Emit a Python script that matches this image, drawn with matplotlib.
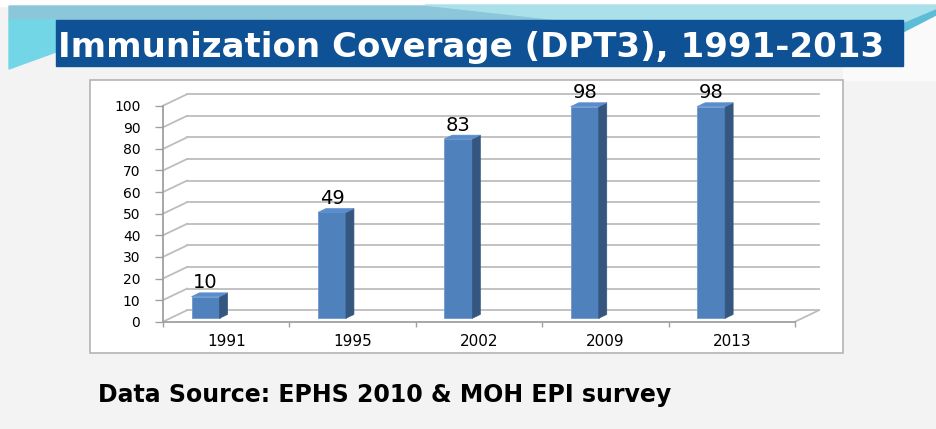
import matplotlib.pyplot as plt
from matplotlib.patches import Polygon, Rectangle

# chart data
years = ["1991", "1995", "2002", "2009", "2013"]
coverage = [10, 49, 83, 98, 98]
y_ticks = list(range(0, 101, 10))

title = "Immunization Coverage (DPT3), 1991-2013"
source = "Data Source: EPHS 2010 & MOH EPI survey"

W, H = 936, 429
fig = plt.figure(figsize=(W / 100, H / 100), dpi=100)
fig.patch.set_facecolor("#f3f3f3")

# slide background pieces, drawn in pixel coordinates
bg = fig.add_axes([0, 0, 1, 1])
bg.set_xlim(0, W)
bg.set_ylim(H, 0)
bg.axis("off")
bg.add_patch(Rectangle((0, 0), W, 6, color="white"))
bg.add_patch(Rectangle((843, 0), W - 843, 80, color="#fafafa", zorder=0))
bg.add_patch(Polygon([(9, 6), (425, 6), (560, 20), (9, 20)], color="#8cc6da"))
bg.add_patch(Polygon([(425, 5), (936, 5), (936, 12), (903, 28), (903, 20), (560, 20)],
                     color="#a9e0e9"))
bg.add_patch(Polygon([(903, 24), (936, 10), (936, 15), (903, 32)], color="#5dbcd8"))
bg.add_patch(Polygon([(9, 20), (56, 20), (56, 52), (9, 69)], color="#72d6e6"))

# title banner
bg.add_patch(Rectangle((56, 20), 847, 46, color="#0e5194"))
bg.text(471, 57, title, color="white", fontsize=24.5, fontweight="bold",
        ha="center", va="baseline")

# chart frame
bg.add_patch(Rectangle((90, 80), 753, 273, facecolor="white",
                       edgecolor="#b4b4b4", lw=1.2))

bg.text(98, 402, source, fontsize=17, fontweight="bold",
        family="DejaVu Sans", ha="left", va="baseline")

# chart axes (front plane of the 3d box)
ax = fig.add_axes([163 / W, 1 - 321.7 / H, 632 / W, 216 / H])
ax.set_xlim(-0.5, 4.5)
ax.set_ylim(0, 100)
ax.patch.set_alpha(0)

grid_c = "#bdbdbd"
DX, DY = 0.19, 5.32  # depth of back wall in data units
for v in y_ticks:
    ax.plot([-0.5 + DX, 4.5 + DX], [v + DY, v + DY], color=grid_c, lw=1.3,
            clip_on=False, zorder=1)
    ax.plot([-0.5, -0.5 + DX], [v, v + DY], color=grid_c, lw=1.3,
            clip_on=False, zorder=1)
ax.plot([4.5, 4.5 + DX], [0, DY], color=grid_c, lw=1.3, clip_on=False, zorder=1)

for s in ["top", "right"]:
    ax.spines[s].set_visible(False)
for s in ["left", "bottom"]:
    ax.spines[s].set_color("#a0a0a0")
    ax.spines[s].set_linewidth(1.3)

ax.set_yticks(y_ticks)
ax.tick_params(axis="y", length=5.8, width=1, color="#a0a0a0", pad=10.5,
               labelsize=10)
ax.set_xticks(range(len(years)))
ax.set_xticklabels(years)
ax.set_xticks([i - 0.5 for i in range(len(years) + 1)], minor=True)
ax.tick_params(axis="x", which="major", length=0, pad=9, labelsize=11)
ax.tick_params(axis="x", which="minor", length=3.6, width=1, color="#a0a0a0")

# pseudo 3d bars
bw, off, base = 0.2215, 0.274, 1.6
bdx, bdy = 0.063, 1.76
for i, v in enumerate(coverage):
    x0 = i - off
    x1 = x0 + bw
    ax.add_patch(Rectangle((x0, base), bw, v, facecolor="#4f81bd",
                           edgecolor="#6f98cc", lw=0.6, zorder=3, clip_on=False))
    ax.add_patch(Polygon([(x1, base), (x1 + bdx, base + bdy),
                          (x1 + bdx, base + v + bdy), (x1, base + v)],
                         facecolor="#34567f", edgecolor="#34567f", lw=0.5,
                         zorder=3, clip_on=False))
    ax.add_patch(Polygon([(x0, base + v), (x0 + bdx, base + v + bdy),
                          (x1 + bdx, base + v + bdy), (x1, base + v)],
                         facecolor="#5b8dcc", edgecolor="#5b8dcc", lw=0.5,
                         zorder=3, clip_on=False))
    ax.annotate(str(v), (x0 + bw / 2, base + v), xytext=(0, 6),
                textcoords="offset points", ha="center", va="baseline",
                fontsize=14)

fig.savefig("out.png", dpi=100)
